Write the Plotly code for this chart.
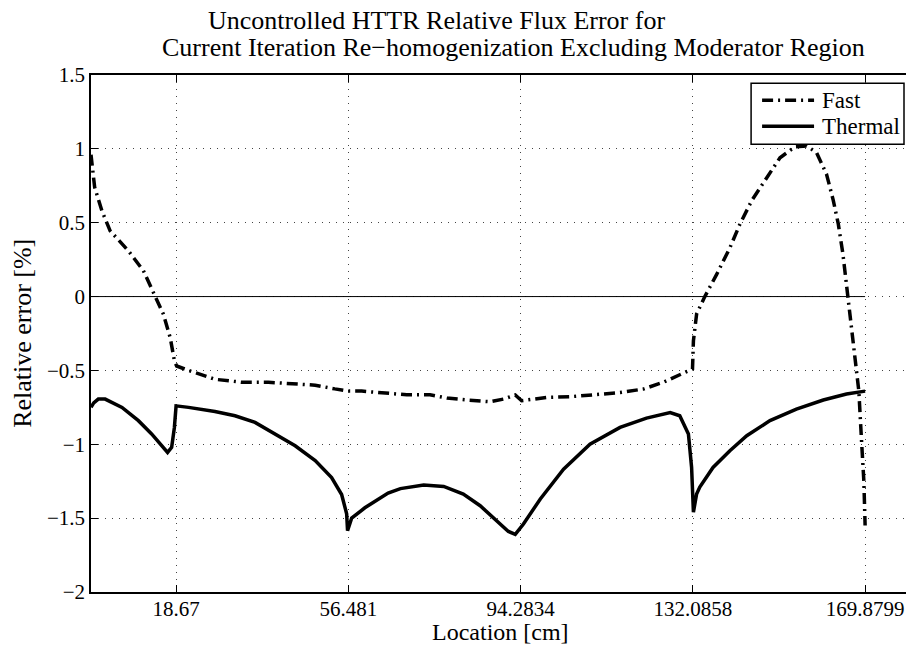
import plotly.graph_objects as go

# Axial location [cm] and relative flux error [%] for the fast group
fast_x = [0, 0.8, 2.4, 4.2, 8.2, 11.5, 14.1, 15.9, 17.4, 18.3, 18.8, 21.4, 27.2, 33.1,
          38.9, 43.3, 49.2, 53.5, 56.5, 59.4, 64.5, 69.3, 74.4, 78.1, 82.5, 87.6, 90.5,
          93.1, 94.5, 100, 105.1, 110.2, 116.1, 121.2, 125.6, 130, 132, 132.2, 132.9,
          134.7, 137.3, 140.2, 142.4, 145, 148.3, 151.2, 154.5, 157, 159.2, 161.4, 162.9,
          164, 165, 166.1, 166.9, 167.2, 167.9, 168.5, 169.1, 169.6, 169.8799]
fast_y = [0.96, 0.74, 0.58, 0.445, 0.31, 0.175, 0.0, -0.12, -0.28, -0.435, -0.47, -0.50,
          -0.56, -0.58, -0.58, -0.59, -0.60, -0.625, -0.64, -0.64, -0.655, -0.665, -0.665,
          -0.687, -0.70, -0.712, -0.694, -0.666, -0.705, -0.683, -0.678, -0.667, -0.65,
          -0.626, -0.58, -0.518, -0.49, -0.30, -0.118, 0.0, 0.15, 0.33, 0.49, 0.65, 0.81,
          0.94, 1.014, 1.02, 0.976, 0.83, 0.65, 0.49, 0.29, 0.0, -0.21, -0.30, -0.48,
          -0.64, -0.98, -1.25, -1.55]

# Thermal group
therm_x = [0, 0.6, 1.6, 3.1, 6.8, 10.4, 13.3, 15.5, 16.8, 17.7, 18.3, 18.67, 21.4, 27.2,
           31.6, 36, 40.4, 44.8, 49.2, 52.8, 55, 56.1, 56.3, 57.2, 60.1, 63.5, 65.2, 67.9,
           73, 77.4, 81.7, 85.4, 89.1, 91.6, 93.1, 94.9, 98.6, 103.7, 109.5, 116.1, 121.9,
           127.1, 129.2, 131.1, 131.8, 132.2, 132.9, 133.6, 136.5, 140.2, 143.9, 149,
           154.8, 160.7, 165.8, 168.7, 169.8799]
therm_y = [-0.75, -0.72, -0.694, -0.694, -0.75, -0.84, -0.93, -1.01, -1.055, -1.02, -0.886,
           -0.74, -0.75, -0.778, -0.807, -0.852, -0.93, -1.01, -1.11, -1.225, -1.34, -1.47,
           -1.585, -1.50, -1.43, -1.36, -1.33, -1.30, -1.276, -1.285, -1.337, -1.416,
           -1.518, -1.59, -1.61, -1.54, -1.37, -1.168, -1.0, -0.886, -0.823, -0.785,
           -0.807, -0.93, -1.157, -1.46, -1.337, -1.29, -1.157, -1.044, -0.942, -0.84,
           -0.762, -0.70, -0.66, -0.642, -0.64]

# Region boundaries used as x ticks
x_ticks = [18.67, 56.481, 94.2834, 132.0858, 169.8799]
x_tick_text = ["18.67", "56.481", "94.2834", "132.0858", "169.8799"]
y_ticks = [-2, -1.5, -1, -0.5, 0, 0.5, 1, 1.5]
y_tick_text = ["−2", "−1.5", "−1", "−0.5", "0", "0.5", "1", "1.5"]

series_names = ["Fast", "Thermal"]

FONT = "Liberation Serif"
FAST_DASH = "11px,5px,2px,5px"

# plot-area geometry in pixels, used to place the boxed legend
W, H = 906, 647
ML, MR, MT, MB = 90.5, 0, 74.7, 55.3
PW, PH = W - ML - MR, H - MT - MB


def px(x):
    return (x - ML) / PW


def py(y):
    return (H - MB - y) / PH


fig = go.Figure()

# zero reference line across the core
fig.add_trace(go.Scatter(
    x=[fast_x[0], fast_x[-1]], y=[0, 0], mode="lines",
    line=dict(color="black", width=1), showlegend=False, hoverinfo="skip"))

fig.add_trace(go.Scatter(
    x=fast_x, y=fast_y, mode="lines", name=series_names[0], showlegend=False,
    line=dict(color="black", width=3.5, dash=FAST_DASH)))
fig.add_trace(go.Scatter(
    x=therm_x, y=therm_y, mode="lines", name=series_names[1], showlegend=False,
    line=dict(color="black", width=3.5)))

grid = dict(showgrid=True, gridcolor="#444", gridwidth=1, griddash="1px,6px")

fig.update_layout(
    width=W, height=H,
    margin=dict(l=ML, r=MR, t=MT, b=MB),
    paper_bgcolor="white", plot_bgcolor="white",
    font=dict(family=FONT, color="black", size=21),
    xaxis=dict(range=[0, 178.85], tickvals=x_ticks, ticktext=x_tick_text,
               ticks="inside", ticklen=7, tickwidth=1, tickcolor="black",
               ticklabelstandoff=-3,
               showline=True, linecolor="black", linewidth=1.5, mirror="ticks",
               zeroline=False, tickfont=dict(size=21), **grid),
    yaxis=dict(range=[-2, 1.5], tickvals=y_ticks, ticktext=y_tick_text,
               ticks="inside", ticklen=7, tickwidth=1, tickcolor="black",
               showline=True, linecolor="black", linewidth=1.5, mirror=False,
               zeroline=False, tickfont=dict(size=21), **grid),
    showlegend=False,
)

# boxed legend
fig.add_shape(type="rect", xref="paper", yref="paper",
              x0=px(751), x1=px(904), y0=py(144), y1=py(83),
              line=dict(color="black", width=1.5), fillcolor="white", layer="above")
legend_rows = [(series_names[0], FAST_DASH, 100), (series_names[1], "solid", 126)]
for name, dash, yrow in legend_rows:
    fig.add_shape(type="line", xref="paper", yref="paper",
                  x0=px(762), x1=px(814), y0=py(yrow), y1=py(yrow),
                  line=dict(color="black", width=3.5, dash=dash), layer="above")
    fig.add_annotation(text=name, xref="paper", yref="paper",
                       x=px(820), y=py(yrow), xanchor="left", yanchor="middle",
                       showarrow=False, font=dict(family=FONT, size=23))

# two-line title and axis labels
fig.add_annotation(text="Uncontrolled HTTR Relative Flux Error for",
                   xref="paper", yref="paper", x=px(436), y=py(20),
                   xanchor="center", yanchor="middle", showarrow=False,
                   font=dict(family=FONT, size=26))
fig.add_annotation(text="Current Iteration Re−homogenization Excluding Moderator Region",
                   xref="paper", yref="paper", x=px(867), y=py(47),
                   xanchor="right", yanchor="middle", showarrow=False,
                   font=dict(family=FONT, size=26))
fig.add_annotation(text="Location [cm]", xref="paper", yref="paper",
                   x=px(500), y=py(632), xanchor="center", yanchor="middle",
                   showarrow=False, font=dict(family=FONT, size=24))
fig.add_annotation(text="Relative error [%]", xref="paper", yref="paper",
                   x=px(22), y=py(333), xanchor="center", yanchor="middle",
                   textangle=-90, showarrow=False, font=dict(family=FONT, size=26))

fig.write_html("out.html")
